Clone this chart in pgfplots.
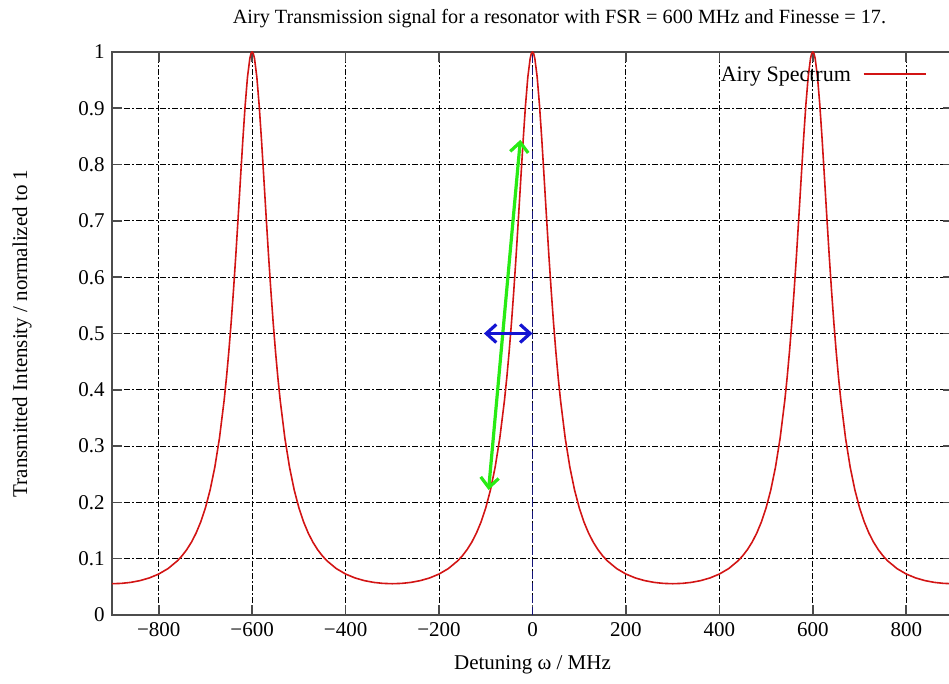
\documentclass[border=0pt]{standalone}
\usepackage{fontspec}
\setmainfont{Liberation Serif}
\usepackage{pgfplots}
\pgfplotsset{compat=1.18}
\usetikzlibrary{arrows.meta}
\definecolor{airyred}{RGB}{210,20,20}
\definecolor{arrgreen}{RGB}{40,235,20}
\definecolor{arrblue}{RGB}{20,20,210}
\definecolor{vline}{RGB}{20,20,120}

\begin{document}
\fontsize{10.5}{12.5}\selectfont
\begin{tikzpicture}
\begin{axis}[
  scale only axis, width=420.5pt, height=281.5pt,
  xmin=-900, xmax=900, ymin=0, ymax=1,
  xtick={-800,-600,-400,-200,0,200,400,600,800},
  xticklabels={−800,−600,−400,−200,0,200,400,600,800},
  ytick={0,0.1,0.2,0.3,0.4,0.5,0.6,0.7,0.8,0.9,1},
  yticklabels={0,0.1,0.2,0.3,0.4,0.5,0.6,0.7,0.8,0.9,1},
  tick align=inside, major tick length=5pt,
  grid=major,
  grid style={black, line width=0.5pt, dash pattern=on 3pt off 1pt on 1pt off 1pt},
  axis line style={black!70, line width=0.9pt},
  tick style={black!70, line width=0.8pt},
  title={\fontsize{10.1}{12}\selectfont Airy Transmission signal for a resonator with FSR = 600 MHz and Finesse = 17.},
  title style={at={(rel axis cs:0.5,1)}, anchor=center, yshift=10.5pt, xshift=13.5pt},
  xlabel={Detuning ω / MHz},
  xlabel style={at={(rel axis cs:0.5,0)}, anchor=center, yshift=-25pt},
  ylabel={Transmitted Intensity / normalized to 1},
  ylabel style={at={(rel axis cs:-0.107,0.5)}, anchor=center},
]
\coordinate (SW) at (rel axis cs:0,0);
\addplot[airyred, line width=0.8pt] coordinates {
(-900,0.05556)(-880,0.05614)(-860,0.05792)(-840,0.06106)(-820,0.06584)(-800,0.07273)(-780,0.08246)(-760,0.09626)(-750,0.10526)(-740,0.11612)(-730,0.12932)(-720,0.14549)(-710,0.16549)(-700,0.19048)(-690,0.22203)(-680,0.26231)(-670,0.31414)(-660,0.38119)(-655,0.42171)(-650,0.46756)(-645,0.51909)(-640,0.57642)(-635,0.63913)(-630,0.70620)(-625,0.77541)(-620,0.84335)(-615,0.90525)(-610,0.95551)(-605,0.98849)(-602.5,0.99710)(-600,1)
(-597.5,0.99710)(-595,0.98849)(-590,0.95551)(-585,0.90525)(-580,0.84335)(-575,0.77541)(-570,0.70620)(-565,0.63913)(-560,0.57642)(-555,0.51909)(-550,0.46756)(-545,0.42171)(-540,0.38119)(-530,0.31414)(-520,0.26231)(-510,0.22203)(-500,0.19048)(-490,0.16549)(-480,0.14549)(-470,0.12932)(-460,0.11612)(-450,0.10526)(-440,0.09626)(-420,0.08246)(-400,0.07273)(-380,0.06584)(-360,0.06106)(-340,0.05792)(-320,0.05614)(-300,0.05556)
(-280,0.05614)(-260,0.05792)(-240,0.06106)(-220,0.06584)(-200,0.07273)(-180,0.08246)(-160,0.09626)(-150,0.10526)(-140,0.11612)(-130,0.12932)(-120,0.14549)(-110,0.16549)(-100,0.19048)(-90,0.22203)(-80,0.26231)(-70,0.31414)(-60,0.38119)(-55,0.42171)(-50,0.46756)(-45,0.51909)(-40,0.57642)(-35,0.63913)(-30,0.70620)(-25,0.77541)(-20,0.84335)(-15,0.90525)(-10,0.95551)(-5,0.98849)(-2.5,0.99710)(0,1)
(2.5,0.99710)(5,0.98849)(10,0.95551)(15,0.90525)(20,0.84335)(25,0.77541)(30,0.70620)(35,0.63913)(40,0.57642)(45,0.51909)(50,0.46756)(55,0.42171)(60,0.38119)(70,0.31414)(80,0.26231)(90,0.22203)(100,0.19048)(110,0.16549)(120,0.14549)(130,0.12932)(140,0.11612)(150,0.10526)(160,0.09626)(180,0.08246)(200,0.07273)(220,0.06584)(240,0.06106)(260,0.05792)(280,0.05614)(300,0.05556)
(320,0.05614)(340,0.05792)(360,0.06106)(380,0.06584)(400,0.07273)(420,0.08246)(440,0.09626)(450,0.10526)(460,0.11612)(470,0.12932)(480,0.14549)(490,0.16549)(500,0.19048)(510,0.22203)(520,0.26231)(530,0.31414)(540,0.38119)(545,0.42171)(550,0.46756)(555,0.51909)(560,0.57642)(565,0.63913)(570,0.70620)(575,0.77541)(580,0.84335)(585,0.90525)(590,0.95551)(595,0.98849)(597.5,0.99710)(600,1)
(602.5,0.99710)(605,0.98849)(610,0.95551)(615,0.90525)(620,0.84335)(625,0.77541)(630,0.70620)(635,0.63913)(640,0.57642)(645,0.51909)(650,0.46756)(655,0.42171)(660,0.38119)(670,0.31414)(680,0.26231)(690,0.22203)(700,0.19048)(710,0.16549)(720,0.14549)(730,0.12932)(740,0.11612)(750,0.10526)(760,0.09626)(780,0.08246)(800,0.07273)(820,0.06584)(840,0.06106)(860,0.05792)(880,0.05614)(900,0.05556)
};
\addplot[vline, line width=0.6pt, dash pattern=on 4pt off 2pt] coordinates {(0,0)(0,1)};
\addplot[arrgreen, line width=1.6pt, {Straight Barb[length=5pt,width=9pt]}-{Straight Barb[length=5pt,width=9pt]}] coordinates {(-94,0.222)(-26,0.844)};
\addplot[arrblue, line width=1.6pt, {Straight Barb[length=5pt,width=9pt]}-{Straight Barb[length=5pt,width=9pt]}] coordinates {(-104,0.5)(0,0.5)};
% legend: text on the left, line sample on the right
\node[anchor=north east, inner sep=0pt] at (rel axis cs:0.969,0.975)
  {\fontsize{11}{13}\selectfont Airy Spectrum\hspace{6pt}\tikz[baseline=-0.7ex]\draw[airyred, line width=0.8pt] (0pt,0pt) -- (31pt,0pt);};
\end{axis}
\pgfresetboundingbox
\path[use as bounding box] (SW) ++(-56pt,-34.5pt) rectangle ++(474.5pt,342pt);
\end{tikzpicture}
\end{document}
